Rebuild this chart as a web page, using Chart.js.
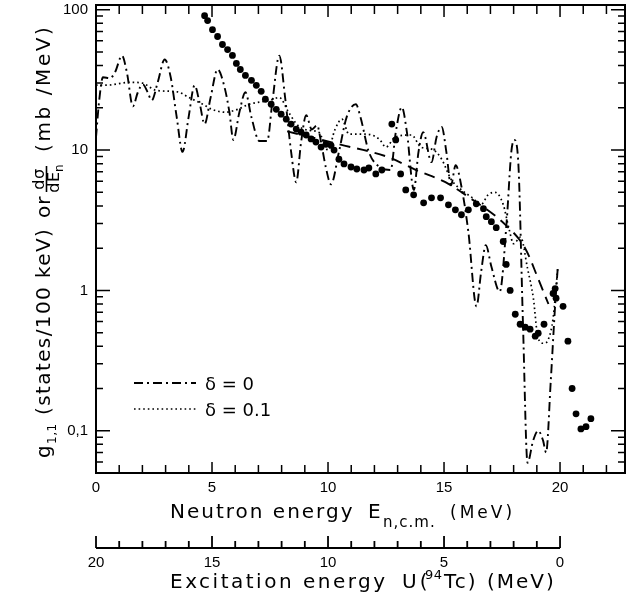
<!DOCTYPE html>
<html>
<head>
<meta charset="utf-8">
<script src="https://cdn.jsdelivr.net/npm/chart.js@4.4.0/dist/chart.umd.min.js"></script>
<style>
  html, body { margin: 0; padding: 0; background: #fff; }
</style>
</head>
<body>
<canvas id="graph" width="629" height="600"></canvas>
<script>
// [E (MeV), value]
const delta0 = [
  [0, 12.3], [0.13, 21.9], [0.3, 33], [0.6, 32.5], [0.82, 35.8], [1.12, 47], [1.33, 35.8],
  [1.59, 20.5], [1.8, 25.7], [2.02, 29.4], [2.23, 25.7], [2.4, 22.6], [2.66, 30.4], [2.96, 44.2],
  [3.22, 33], [3.48, 17.1], [3.73, 9.7], [3.99, 17.1], [4.25, 28.9], [4.46, 21.9], [4.68, 15.3],
  [4.94, 23.7], [5.24, 37.5], [5.54, 28], [5.75, 18.6], [5.92, 11.8], [6.18, 18.6], [6.44, 25.8],
  [6.7, 17.1], [7.04, 11.6], [7.38, 11.6], [7.6, 21.9], [7.9, 47], [8.15, 23.7], [8.41, 9.7],
  [8.63, 5.9], [8.84, 11.4], [9.06, 17.7], [9.3, 14], [9.53, 15], [9.7, 11.4], [9.9, 7.6],
  [10.13, 5.7], [10.47, 9.7], [10.8, 17.1], [11.2, 21.2], [11.4, 17.1], [11.76, 9.7], [12.2, 7.6],
  [12.7, 7.2], [12.92, 13.4], [13.18, 20.2], [13.4, 13.4], [13.7, 5.2], [13.9, 9.7], [14.1, 13.4],
  [14.46, 8.2], [14.68, 12.4], [14.9, 14.6], [15.1, 9.7], [15.3, 5.6], [15.5, 7.8], [15.75, 5.5],
  [16.05, 2.6], [16.4, 0.77], [16.6, 1.36], [16.8, 2.1], [17.04, 1.48], [17.4, 0.98], [17.7, 3.1],
  [17.9, 9.7], [18.03, 11.8], [18.2, 8.2], [18.4, 0.6], [18.6, 0.059], [18.84, 0.085], [19.06, 0.1],
  [19.27, 0.085], [19.4, 0.07], [19.6, 0.226], [19.8, 0.84], [19.9, 1.43]
];

const delta01 = [
  [0, 29], [0.47, 29], [1.46, 30.4], [2.0, 30], [2.6, 26.6], [3.5, 26], [4.0, 23.7], [4.6, 21.2],
  [5.0, 19.5], [5.6, 18.6], [6.1, 19.5], [6.6, 21.2], [7.5, 22.6], [7.9, 23.7], [8.3, 18.6],
  [8.7, 15], [9.2, 13.8], [9.6, 13.4], [10.0, 10], [10.3, 14], [10.6, 16.6], [10.9, 13],
  [11.6, 13], [12.2, 12], [12.5, 10.5], [12.9, 12.4], [13.6, 12.8], [14.0, 10.5], [14.5, 10.1],
  [14.9, 8.6], [15.3, 6.2], [15.75, 5.2], [16.2, 4.6], [16.6, 4.1], [16.9, 4.8], [17.2, 5.0],
  [17.55, 4.1], [17.8, 2.75], [18.0, 2.15], [18.3, 2.4], [18.6, 1.43], [18.85, 0.88], [19.05, 0.46],
  [19.3, 0.42], [19.5, 0.45], [19.7, 0.63], [19.9, 1.43]
];

const dashedCurve = [
  [8.24, 13.6], [10.47, 11.0], [12.6, 8.9], [13.8, 7.2], [15.06, 5.9], [16.05, 4.64],
  [17.64, 2.94], [18.5, 1.99], [19.05, 1.22], [19.5, 0.8]
];

const measured = [
  [4.68, 90.7], [4.81, 83.6], [5.02, 72.1], [5.24, 64.4], [5.45, 56.5], [5.67, 52.0], [5.88, 47.2],
  [6.05, 41.4], [6.22, 37.5], [6.44, 34.0], [6.70, 31.4], [6.91, 28.9], [7.12, 26.2], [7.30, 23.0],
  [7.55, 21.2], [7.77, 19.5], [7.98, 18.0], [8.20, 16.6], [8.41, 15.3], [8.63, 14.1], [8.84, 13.4],
  [9.06, 12.8], [9.27, 12.0], [9.48, 11.4], [9.70, 10.5], [9.91, 11.0], [10.13, 10.8], [10.26, 10.0],
  [10.47, 8.6], [10.69, 7.96], [10.99, 7.57], [11.24, 7.33], [11.55, 7.21], [11.76, 7.45],
  [12.06, 6.76], [12.32, 7.21], [12.75, 15.3], [12.92, 11.8], [13.13, 6.76], [13.35, 5.2],
  [13.69, 4.8], [14.12, 4.21], [14.46, 4.57], [14.85, 4.57], [15.19, 4.07], [15.49, 3.75],
  [15.75, 3.46], [16.05, 3.75], [16.39, 4.14], [16.70, 3.82], [16.82, 3.35], [17.04, 3.09],
  [17.25, 2.80], [17.55, 2.23], [17.68, 1.53], [17.85, 1.0], [18.07, 0.676], [18.28, 0.574],
  [18.5, 0.547], [18.71, 0.529], [18.93, 0.472], [19.06, 0.496], [19.31, 0.574], [19.70, 0.95],
  [19.79, 1.03], [19.83, 0.88], [20.13, 0.77], [20.34, 0.435], [20.52, 0.20], [20.69, 0.132],
  [20.9, 0.103], [21.12, 0.107], [21.33, 0.122]
];

const xTickValues = [0, 5, 10, 15, 20];
const uTickValues = [20, 15, 10, 5, 0];
const yTickValues = [0.1, 1, 10, 100];
const minorSteps = [2, 3, 4, 5, 6, 7, 8, 9];
const E_MAX = 22.8;

function toPoints(arr) {
  return arr.map(p => ({ x: p[0], y: p[1] }));
}

// text piece with letter spacing, returns end x
function put(ctx, text, x, y, size, spacing) {
  ctx.font = size + "px 'DejaVu Sans'";
  ctx.letterSpacing = (spacing || 0) + "px";
  ctx.fillText(text, x, y);
  const w = ctx.measureText(text).width;
  ctx.letterSpacing = "0px";
  return x + w;
}

const decor = {
  id: "decor",
  afterDraw(chart) {
    const ctx = chart.ctx;
    const a = chart.chartArea;
    const x = chart.scales.x, x2 = chart.scales.x2, y = chart.scales.y;
    ctx.save();
    ctx.strokeStyle = "#000";
    ctx.fillStyle = "#000";

    // frame
    ctx.lineWidth = 2;
    ctx.strokeRect(a.left, a.top, a.right - a.left, a.bottom - a.top);

    // tick marks, pointing inwards
    ctx.lineWidth = 1.5;
    ctx.beginPath();
    for (let e = 0; e <= 22; e++) {
      const px = x.getPixelForValue(e);
      const big = e % 5 === 0;
      ctx.moveTo(px, a.bottom); ctx.lineTo(px, a.bottom - (big ? 11 : 8));
      ctx.moveTo(px, a.top); ctx.lineTo(px, a.top + (big ? 12 : 9));
    }
    for (let d = -2; d <= 2; d++) {
      const base = Math.pow(10, d);
      [1].concat(minorSteps).forEach(m => {
        const v = m * base;
        if (v < y.min || v > y.max) return;
        const py = y.getPixelForValue(v);
        const len = m === 1 ? 14 : 7;
        ctx.moveTo(a.left, py); ctx.lineTo(a.left + len, py);
        ctx.moveTo(a.right, py); ctx.lineTo(a.right - len, py);
      });
    }
    ctx.stroke();

    // excitation energy axis
    const ay = x2.top;
    ctx.beginPath();
    ctx.moveTo(x2.getPixelForValue(20), ay);
    ctx.lineTo(x2.getPixelForValue(0), ay);
    for (let u = 0; u <= 20; u++) {
      const px = x2.getPixelForValue(u);
      ctx.moveTo(px, ay);
      ctx.lineTo(px, ay - (u % 5 === 0 ? 12 : 7));
    }
    ctx.lineWidth = 1.8;
    ctx.stroke();

    // axis titles
    ctx.textAlign = "left";
    ctx.textBaseline = "alphabetic";
    put(ctx, "Neutron energy", 170, 518, 20, 2);
    put(ctx, "E", 368, 518, 20, 0);
    put(ctx, "n,c.m.", 383, 527, 15, 1);
    put(ctx, "(MeV)", 450, 518, 17, 3);

    put(ctx, "Excitation energy", 170, 588, 20, 2.5);
    put(ctx, "U(", 402, 588, 20, 3);
    put(ctx, "94", 425, 579, 13, 0.5);
    put(ctx, "Tc)", 444, 588, 20, 2);
    put(ctx, "(MeV)", 487, 588, 20, 2);

    // y title, rotated
    ctx.save();
    ctx.translate(50, 458);
    ctx.rotate(-Math.PI / 2);
    put(ctx, "g", 0, 0, 20, 0);
    put(ctx, "1,1", 14, 6, 12, 0.5);
    put(ctx, "(states/100 keV)", 43, 0, 20, 1.4);
    put(ctx, "or", 240, 0, 20, 1);
    ctx.textAlign = "center";
    put(ctx, "dσ", 279, -6, 16, 0.5);
    put(ctx, "dE", 276, 9, 16, 0.5);
    ctx.textAlign = "left";
    put(ctx, "n", 286, 13, 12, 0);
    ctx.beginPath();
    ctx.moveTo(266, -3.5); ctx.lineTo(292, -3.5);
    ctx.lineWidth = 1.6;
    ctx.stroke();
    put(ctx, "(mb /MeV)", 306, 0, 20, 2.6);
    ctx.restore();

    // legend inside the plot
    const legendRows = [chart.data.datasets[1], chart.data.datasets[2]];
    legendRows.forEach((ds, i) => {
      const ly = 383 + i * 26;
      ctx.beginPath();
      ctx.setLineDash(ds.borderDash);
      ctx.lineWidth = ds.borderWidth;
      ctx.moveTo(134, ly); ctx.lineTo(196, ly);
      ctx.stroke();
      ctx.setLineDash([]);
      put(ctx, ds.label, 205, ly + 7, 18, 0);
    });

    ctx.restore();
  }
};

const ctx = document.getElementById("graph").getContext("2d");
Chart.defaults.color = "#000";
Chart.defaults.font.family = "'Liberation Sans'";

window.myChart = new Chart(ctx, {
  type: "scatter",
  data: {
    datasets: [
      {
        label: "measured",
        data: toPoints(measured),
        showLine: false,
        pointRadius: 3.4,
        pointBorderWidth: 0,
        backgroundColor: "#000",
        borderColor: "#000",
        order: 0,
      },
      {
        label: "δ = 0",
        data: toPoints(delta0),
        showLine: true,
        pointRadius: 0,
        borderColor: "#000",
        borderWidth: 1.9,
        borderDash: [9, 4, 2, 4],
        cubicInterpolationMode: "monotone",
        fill: false,
        order: 2,
      },
      {
        label: "δ = 0.1",
        data: toPoints(delta01),
        showLine: true,
        pointRadius: 0,
        borderColor: "#000",
        borderWidth: 1.7,
        borderDash: [1.6, 3],
        cubicInterpolationMode: "monotone",
        fill: false,
        order: 2,
      },
      {
        label: "dashed",
        data: toPoints(dashedCurve),
        showLine: true,
        pointRadius: 0,
        borderColor: "#000",
        borderWidth: 1.9,
        borderDash: [11, 7],
        cubicInterpolationMode: "monotone",
        fill: false,
        order: 2,
      },
    ],
  },
  options: {
    responsive: false,
    animation: false,
    events: [],
    layout: { padding: { top: 5, right: 2, left: 0, bottom: 0 } },
    plugins: { legend: { display: false }, tooltip: { enabled: false } },
    scales: {
      x: {
        type: "linear",
        position: "bottom",
        weight: 0,
        min: 0,
        max: E_MAX,
        grid: { display: false, drawTicks: false },
        border: { display: false },
        ticks: { font: { size: 15 }, padding: 6, maxRotation: 0, autoSkip: false },
        afterBuildTicks: (s) => { s.ticks = xTickValues.map(v => ({ value: v })); },
        afterFit: (s) => { s.height = 75; s.paddingLeft = 0; s.paddingRight = 0; },
      },
      x2: {
        type: "linear",
        position: "bottom",
        weight: 1,
        reverse: true,
        min: 20 - E_MAX,
        max: 20,
        grid: { display: false, drawTicks: false },
        border: { display: false },
        ticks: { font: { size: 15 }, padding: 6, maxRotation: 0, autoSkip: false },
        afterBuildTicks: (s) => { s.ticks = uTickValues.map(v => ({ value: v })); },
        afterFit: (s) => { s.height = 52; s.paddingLeft = 0; s.paddingRight = 0; },
      },
      y: {
        type: "logarithmic",
        position: "left",
        min: 0.05,
        max: 108,
        grid: { display: false, drawTicks: false },
        border: { display: false },
        ticks: {
          font: { size: 15 },
          padding: 8,
          autoSkip: false,
          callback: (v) => (v === 0.1 ? "0,1" : String(v)),
        },
        afterBuildTicks: (s) => { s.ticks = yTickValues.map(v => ({ value: v })); },
        afterFit: (s) => { s.width = 96; s.paddingTop = 0; s.paddingBottom = 0; },
      },
    },
  },
  plugins: [decor],
});
</script>
</body>
</html>
